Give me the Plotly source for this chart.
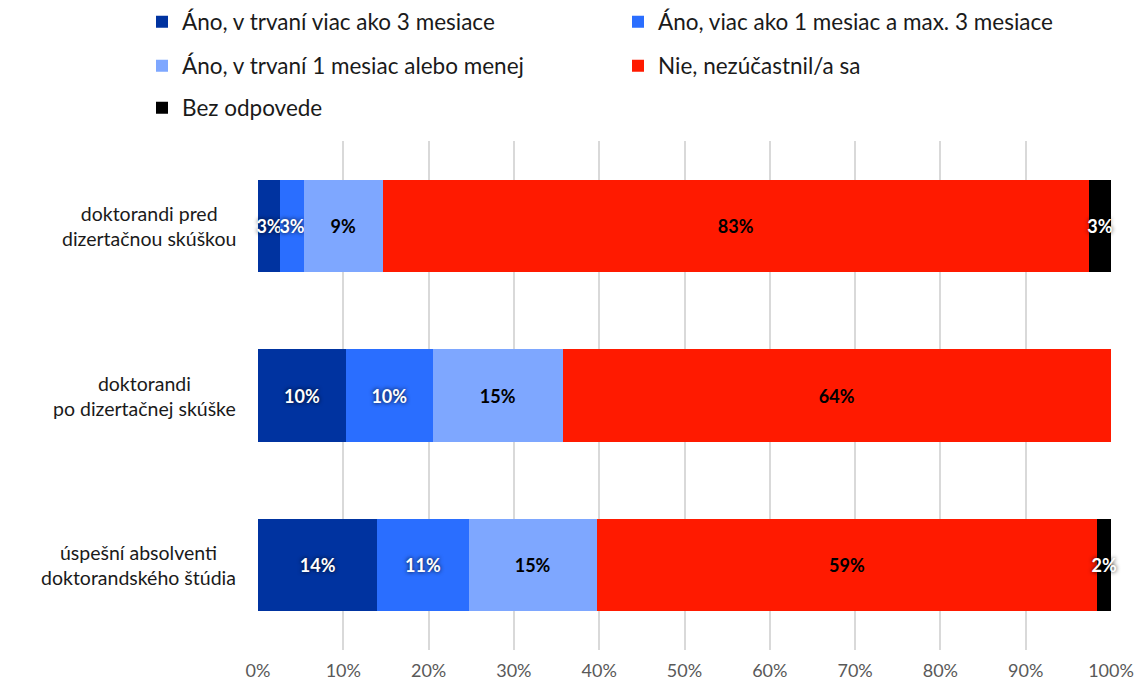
import plotly.graph_objects as go

# Skupiny respondentov (zhora nadol)
groups = ['doktorandi pred<br>dizertačnou skúškou',
          'doktorandi<br>po dizertačnej skúške',
          'úspešní absolventi<br>doktorandského štúdia']

# Podiely odpovedí v % pre každú skupinu
series_names = ['Áno, v trvaní viac ako 3 mesiace',
                'Áno, viac ako 1 mesiac a max. 3 mesiace',
                'Áno, v trvaní 1 mesiac alebo menej',
                'Nie, nezúčastnil/a sa',
                'Bez odpovede']
over_3m = [2.6, 10.3, 14.0]
one_to_3m = [2.8, 10.2, 10.7]
under_1m = [9.2, 15.2, 15.0]
no = [82.8, 64.3, 58.7]
no_answer = [2.6, 0.0, 1.6]

x_ticks = [0, 10, 20, 30, 40, 50, 60, 70, 80, 90, 100]

colors = ['#0033a0', '#2a6eff', '#7ea7ff', '#ff1a00', '#000000']
text_colors = ['white', 'white', 'black', 'black', 'white']

# legenda v dvoch stĺpcoch, každá položka zvlášť
legend_pos = [(142, 22), (618, 22), (142, 66), (618, 66), (142, 108)]

FONT = 'Lato'

fig = go.Figure()
layout_legends = {}
for i, (name, vals, col, tcol) in enumerate(zip(
        series_names, [over_3m, one_to_3m, under_1m, no, no_answer],
        colors, text_colors)):
    lg = 'legend' if i == 0 else f'legend{i + 1}'
    labels = [f'{round(v)}%' if v > 0 else '' for v in vals]
    shadow = '0px 0px 4px rgba(0,0,0,0.9)' if tcol == 'white' else 'none'
    fig.add_trace(go.Bar(
        y=groups, x=vals, name=name, orientation='h',
        marker=dict(color=col, line=dict(width=0)),
        text=labels, textposition='inside', insidetextanchor='middle',
        constraintext='none', textangle=0, cliponaxis=False,
        textfont=dict(family=FONT, size=18, color=tcol, weight='bold',
                      shadow=shadow),
        legend=lg, hoverinfo='skip',
    ))
    lx, ly = legend_pos[i]
    layout_legends[lg] = dict(
        xref='container', yref='container',
        x=lx / 1137, y=1 - ly / 684, xanchor='left', yanchor='middle',
        font=dict(family=FONT, size=22.5, color='#1a1a1a'),
        bgcolor='rgba(0,0,0,0)', itemclick=False, itemdoubleclick=False)

fig.update_layout(
    width=1137, height=684,
    barmode='stack', bargap=0.457,
    plot_bgcolor='white', paper_bgcolor='white',
    margin=dict(l=258, r=26, t=141, b=34, autoexpand=False),
    showlegend=True,
    **layout_legends,
)
fig.update_xaxes(range=[0, 100], tickvals=x_ticks,
                 ticktext=[f'{t}%' for t in x_ticks],
                 showgrid=True, gridcolor='#d9d9d9', gridwidth=1.5,
                 zeroline=False, showline=False, automargin=False,
                 tickfont=dict(family=FONT, size=18, color='#595959'),
                 ticks='', ticklabelstandoff=8)
fig.update_yaxes(autorange='reversed', showticklabels=False, automargin=False,
                 showgrid=False, zeroline=False, showline=False)

# Popisky skupín vľavo, zarovnané na stred
for g in groups:
    fig.add_annotation(x=0, y=g, xref='paper', yref='y', xanchor='right',
                       xshift=-20, text=g, showarrow=False, align='center',
                       font=dict(family=FONT, size=19.5, color='#1a1a1a'))

fig.write_html('out.html', config={'displayModeBar': False},
               post_script="document.body.style.margin='0px';")
